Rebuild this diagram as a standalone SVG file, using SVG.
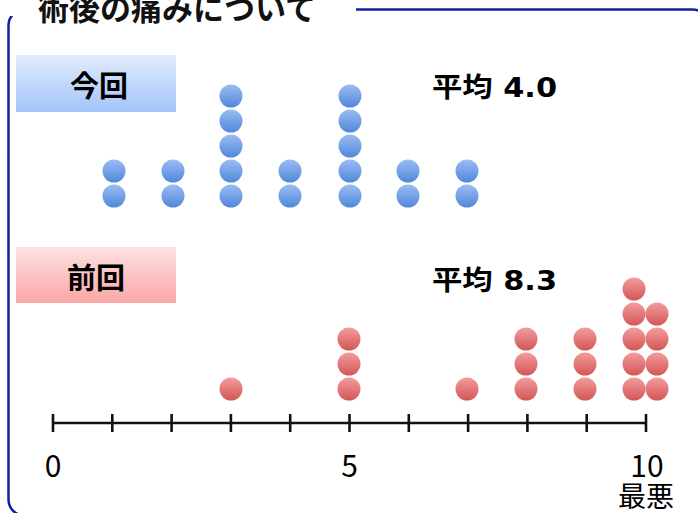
<svg xmlns="http://www.w3.org/2000/svg" width="698" height="513" viewBox="0 0 698 513">
<defs>
<linearGradient id="gBlue" x1="0" y1="0" x2="0" y2="1">
<stop offset="0" stop-color="#9abdf3"/>
<stop offset="1" stop-color="#5187da"/>
</linearGradient>
<linearGradient id="gRed" x1="0" y1="0" x2="0" y2="1">
<stop offset="0" stop-color="#f39c9c"/>
<stop offset="1" stop-color="#d45656"/>
</linearGradient>
<linearGradient id="gBoxBlue" x1="0" y1="0" x2="0" y2="1">
<stop offset="0" stop-color="#e2edfc"/>
<stop offset="1" stop-color="#a3c4fa"/>
</linearGradient>
<linearGradient id="gBoxRed" x1="0" y1="0" x2="0" y2="1">
<stop offset="0" stop-color="#fde2e2"/>
<stop offset="1" stop-color="#fba6a6"/>
</linearGradient>
<circle id="db" r="11.5" fill="url(#gBlue)"/>
<circle id="dr" r="11.5" fill="url(#gRed)"/>
</defs>
<style>
.frame{fill:none;stroke:#0f20a0;stroke-width:2.5}
.title{font-family:"Noto Sans CJK JP","Noto Sans",sans-serif;font-weight:bold;font-size:31px;fill:#111}
.lbl{font-family:"Noto Sans CJK JP",sans-serif;font-weight:bold;font-size:29px;fill:#000;text-anchor:middle}
.avg{font-family:"DejaVu Sans","Noto Sans CJK JP",sans-serif;font-weight:bold;font-size:27px;fill:#000}
.num{font-family:"Noto Sans CJK JP","Noto Sans",sans-serif;font-size:30px;fill:#000;text-anchor:middle}
.sub{font-family:"Noto Sans CJK JP","Noto Sans",sans-serif;font-size:28px;fill:#000;text-anchor:middle}
.axis{stroke:#111;stroke-width:2.6;fill:none}
</style>
<rect width="698" height="513" fill="#fff"/>
<g id="frame">
<rect class="frame" x="8.5" y="9.5" width="700" height="506" rx="16"/>
<rect x="0" y="0" width="356" height="16" fill="#fff"/>
<text class="title" x="38" y="20">術後の痛みについて</text>
</g>
<g id="label-now">
<rect x="16" y="55" width="160" height="57" fill="url(#gBoxBlue)"/>
<text class="lbl" x="99" y="97">今回</text>
</g>
<g id="label-prev">
<rect x="16" y="247" width="160" height="56" fill="url(#gBoxRed)"/>
<text class="lbl" x="96" y="289">前回</text>
</g>
<g id="avg-now"><text class="avg" x="432" y="97" textLength="125" lengthAdjust="spacingAndGlyphs">平均 4.0</text></g>
<g id="avg-prev"><text class="avg" x="432" y="290" textLength="125" lengthAdjust="spacingAndGlyphs">平均 8.3</text></g>
<g id="dots-now">
<use href="#db" x="114" y="196"/><use href="#db" x="114" y="171"/>
<use href="#db" x="173" y="196"/><use href="#db" x="173" y="171"/>
<use href="#db" x="231" y="196"/><use href="#db" x="231" y="171"/><use href="#db" x="231" y="146"/><use href="#db" x="231" y="121"/><use href="#db" x="231" y="96"/>
<use href="#db" x="290" y="196"/><use href="#db" x="290" y="171"/>
<use href="#db" x="350" y="196"/><use href="#db" x="350" y="171"/><use href="#db" x="350" y="146"/><use href="#db" x="350" y="121"/><use href="#db" x="350" y="96"/>
<use href="#db" x="408" y="196"/><use href="#db" x="408" y="171"/>
<use href="#db" x="467" y="196"/><use href="#db" x="467" y="171"/>
</g>
<g id="dots-prev">
<use href="#dr" x="231" y="389"/>
<use href="#dr" x="349" y="389"/><use href="#dr" x="349" y="364"/><use href="#dr" x="349" y="339"/>
<use href="#dr" x="467" y="389"/>
<use href="#dr" x="526" y="389"/><use href="#dr" x="526" y="364"/><use href="#dr" x="526" y="339"/>
<use href="#dr" x="585" y="389"/><use href="#dr" x="585" y="364"/><use href="#dr" x="585" y="339"/>
<use href="#dr" x="634" y="389"/><use href="#dr" x="634" y="364"/><use href="#dr" x="634" y="339"/><use href="#dr" x="634" y="314"/><use href="#dr" x="634" y="289"/>
<use href="#dr" x="657" y="389"/><use href="#dr" x="657" y="364"/><use href="#dr" x="657" y="339"/><use href="#dr" x="657" y="314"/>
</g>
<g id="axis">
<line class="axis" x1="53" y1="423" x2="646" y2="423"/>
<path class="axis" d="M53 414V432M112.3 414V432M171.6 414V432M230.9 414V432M290.2 414V432M349.5 414V432M408.8 414V432M468.1 414V432M527.4 414V432M586.7 414V432M646 414V432"/>
<text class="num" x="53" y="477">0</text>
<text class="num" x="349.5" y="477">5</text>
<text class="num" x="647" y="477">10</text>
<text class="sub" x="646" y="507">最悪</text>
</g>
</svg>
